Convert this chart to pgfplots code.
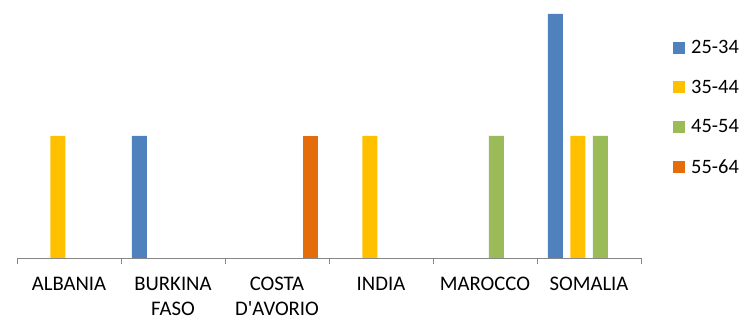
\documentclass[border=0pt]{standalone}
\usepackage{fontspec}
\setmainfont{Carlito}
\usepackage{pgfplots}
\pgfplotsset{compat=1.18}
\definecolor{c1}{HTML}{4F81BD}
\definecolor{c2}{HTML}{FFC000}
\definecolor{c3}{HTML}{9BBB59}
\definecolor{c4}{HTML}{E46C0A}
\definecolor{axgray}{HTML}{868686}
\begin{document}
\begin{tikzpicture}
\begin{axis}[
  at={(17bp,62bp)}, anchor=south west,
  scale only axis, width=624bp, height=244bp,
  xmin=-0.5, xmax=5.5, ymin=0, ymax=2,
  ybar=7.5bp, bar width=15bp,
  axis y line=none, axis x line*=bottom,
  axis line style={axgray, line width=0.8bp},
  xtick={0,1,2,3,4,5},
  xticklabels={ALBANIA,{BURKINA\\FASO},{COSTA\\D\textquotesingle AVORIO},INDIA,MAROCCO,SOMALIA},
  major tick length=0pt,
  minor xtick={-0.5,0.5,1.5,2.5,3.5,4.5,5.5},
  minor tick length=6bp,
  tick align=outside,
  minor tick style={axgray, line width=0.8bp},
  xticklabel style={font=\fontsize{20.8}{25}\selectfont, align=center, text=black, yshift=-15.5bp},
  legend style={at={(1.0465,0.617)}, anchor=west, draw=none, fill=none,
    font=\fontsize{20.5}{25}\selectfont, row sep=21bp,
    /tikz/every odd column/.append style={column sep=4bp}},
  legend cell align=left,
  legend image code/.code={\fill[#1] (0bp,-6bp) rectangle (12bp,6bp);},
]
\addplot[fill=c1, draw=none] coordinates {(1,1) (5,2)};
\addplot[fill=c2, draw=none] coordinates {(0,1) (3,1) (5,1)};
\addplot[fill=c3, draw=none] coordinates {(4,1) (5,1)};
\addplot[fill=c4, draw=none] coordinates {(2,1)};
\legend{25-34,35-44,45-54,55-64}
\end{axis}
\pgfresetboundingbox
\path (0,0) rectangle (745bp,320bp);
\end{tikzpicture}
\end{document}
